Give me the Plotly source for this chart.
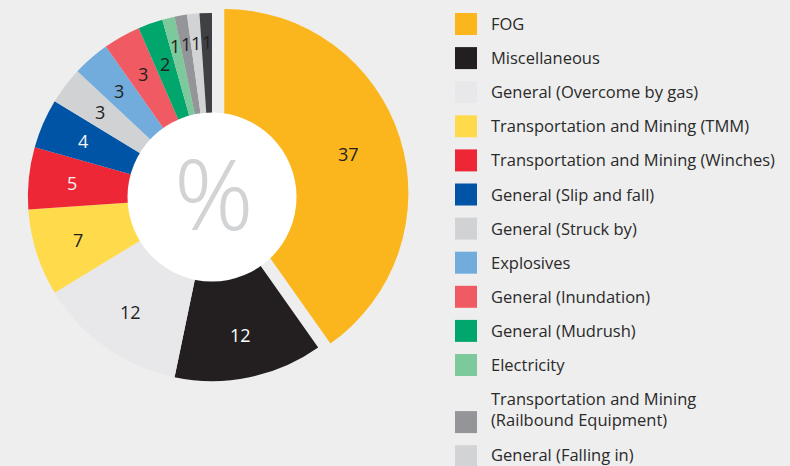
import math
import plotly.graph_objects as go

# ---- data ----
categories = [
    "FOG",
    "Miscellaneous",
    "General (Overcome by gas)",
    "Transportation and Mining (TMM)",
    "Transportation and Mining (Winches)",
    "General (Slip and fall)",
    "General (Struck by)",
    "Explosives",
    "General (Inundation)",
    "General (Mudrush)",
    "Electricity",
    "Transportation and Mining<br>(Railbound Equipment)",
    "General (Falling in)",
    "Other",
]
percentages = [37, 12, 12, 7, 5, 4, 3, 3, 3, 2, 1, 1, 1, 1]
legend_labels = categories[:13]

colors = ["#FBB61E", "#231F20", "#E8E8EA", "#FFDA4B", "#EE2737", "#0054A6",
          "#D1D2D4", "#72ACDD", "#F05A63", "#00A66C", "#7CC99C", "#939598",
          "#D1D3D4", "#3F4043"]
text_colors = ["#231F20", "#FFFFFF", "#231F20", "#231F20", "#F4F4F4", "#F4F4F4",
               "#231F20", "#231F20", "#231F20", "#231F20", "#231F20", "#231F20",
               "#231F20", "#231F20"]

W, H = 790, 466
BG = "#EEEEEE"
FONT = "Open Sans"

# pie geometry (pixels)
cx, cy = 212, 197
pull = 0.07
half = cy  # half box size
R = half / (1 + pull)
white_r = 84.5
hole = (white_r - pull * R - 1) / R

fig = go.Figure()
fig.add_trace(go.Pie(
    labels=categories,
    values=percentages,
    sort=False,
    direction="clockwise",
    rotation=0,
    hole=hole,
    pull=[pull if i == 0 else 0 for i in range(len(percentages))],
    marker=dict(colors=colors, line=dict(width=0)),
    textinfo="none",
    showlegend=False,
    domain=dict(x=[(cx - half - 2) / W, (cx + half + 2) / W],
                y=[(H - cy - half) / H, (H - cy + half) / H]),
    hovertemplate="%{label}: %{value}%<extra></extra>",
))

shapes = []
annotations = []
# white centre circle drawn over the ring
shapes.append(dict(type="circle", xref="paper", yref="paper", layer="above",
                   x0=(cx - white_r) / W, x1=(cx + white_r) / W,
                   y0=(H - cy - white_r) / H, y1=(H - cy + white_r) / H,
                   fillcolor="white", line=dict(width=0)))
annotations.append(dict(text="%", x=(cx + 2) / W, y=(H - cy + 5) / H, xref="paper", yref="paper",
                        showarrow=False, xanchor="center", yanchor="middle",
                        font=dict(size=98, color="#D1D3D4", family="Noto Sans", weight=300)))

# value labels placed at each slice's mid-angle (derived from the data)
total = sum(percentages)
cum = 0
for i, v in enumerate(percentages):
    mid = (cum + v / 2) / total * 2 * math.pi
    cum += v
    ox, oy = cx, cy
    if i == 0:
        ox += pull * R * math.sin(mid)
        oy -= pull * R * math.cos(mid)
        r = 130
    elif v <= 1:
        r = 155
    else:
        r = 141
    px = ox + r * math.sin(mid)
    py = oy - r * math.cos(mid)
    annotations.append(dict(text=str(v), x=px / W, y=(H - py) / H, xref="paper", yref="paper",
                            showarrow=False, xanchor="center", yanchor="middle",
                            font=dict(size=18, color=text_colors[i], family=FONT)))

# manual legend
y_pos = 24
step = 34.1
for i, lab in enumerate(legend_labels):
    two = "<br>" in lab
    sq_c = y_pos + (23 if two else 0)
    txt_c = y_pos + (10 if two else 0) - 0.5
    if i == len(legend_labels) - 1:
        txt_c -= 1.5
    shapes.append(dict(type="rect", xref="paper", yref="paper",
                       x0=455 / W, x1=477 / W,
                       y0=(H - sq_c - 11) / H, y1=(H - sq_c + 11) / H,
                       fillcolor=colors[i], line=dict(width=0)))
    annotations.append(dict(text=lab, x=489 / W, y=(H - txt_c) / H, xref="paper", yref="paper",
                            showarrow=False, xanchor="left", yanchor="middle", align="left",
                            font=dict(size=16.5, color="#2A2A2A", family=FONT)))
    y_pos = sq_c + step

fig.update_layout(
    width=W, height=H,
    margin=dict(l=0, r=0, t=0, b=0),
    paper_bgcolor=BG, plot_bgcolor=BG,
    shapes=shapes, annotations=annotations,
)
fig.write_html("out.html", config={"displayModeBar": False},
               post_script="document.body.style.margin='0';document.body.style.overflow='hidden';")
